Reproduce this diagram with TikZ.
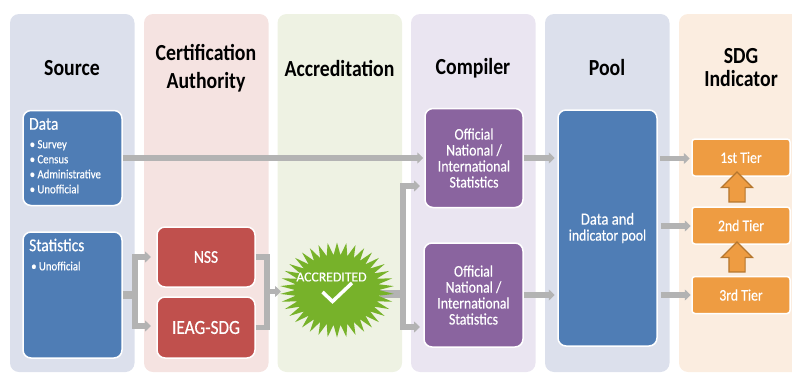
\documentclass[tikz,border=0pt]{standalone}
\usepackage{fontspec}
\setmainfont[FakeStretch=0.86]{Carlito}
\newfontfamily\boxfont[FakeStretch=0.86,FakeBold=0.4]{Carlito}
\newfontfamily\sealfont[FakeBold=0.4]{Carlito}
\usetikzlibrary{shapes.geometric,shapes.arrows,arrows.meta}
\definecolor{panelblue}{HTML}{DCE0EC}
\definecolor{panelred}{HTML}{F5E3E1}
\definecolor{panelgreen}{HTML}{EEF2E3}
\definecolor{panelviolet}{HTML}{EAE5F1}
\definecolor{panelorange}{HTML}{FBEDE0}
\definecolor{boxblue}{HTML}{4F7DB5}
\definecolor{boxred}{HTML}{C0504D}
\definecolor{boxviolet}{HTML}{8A649F}
\definecolor{boxorange}{HTML}{EE9C42}
\definecolor{edgeorange}{HTML}{B5762E}
\definecolor{sealgreen}{HTML}{77B22A}
\definecolor{flowgray}{HTML}{B3B3B3}
\tikzset{
  box/.style={draw=white,line width=1.5pt,rounded corners=8pt,text=white,inner sep=0pt,align=center,font=\fontsize{16}{16}\selectfont\boxfont},
  head/.style={font=\fontsize{23}{28}\selectfont\bfseries,align=center,inner sep=0pt},
  tier/.style={box,fill=boxorange,rounded corners=3pt,minimum width=98pt,minimum height=37pt},
  flow/.style={flowgray,line width=5.5pt,-{Triangle[length=6pt,width=11pt]}},
  flowline/.style={flowgray,line width=5.5pt},
  stub/.style={flowgray,line width=7.5pt},
  tierup/.style={single arrow,draw=edgeorange,fill=boxorange,line width=1.2pt,rotate=90,inner xsep=0pt,inner ysep=7.5pt,
    minimum height=30pt,single arrow head extend=7.5pt,single arrow head indent=0pt},
}
\begin{document}
\begin{tikzpicture}[x=1pt,y=-1pt]
    \useasboundingbox (0,0) rectangle (792,372);
    \clip (0,0) rectangle (792,372);

    % columns
    \foreach \x/\c in {10/panelblue,144/panelred,277.5/panelgreen,411/panelviolet,545/panelblue,679/panelorange} {
      \fill[\c,rounded corners=9pt] (\x,14) rectangle +(124.5,358);
    }

    \node[head] (srcHead) at (72,68) {Source};
    \node[head] (certHead) at (206,68) {Certification\\Authority};
    \node[head] (accHead) at (339.5,68) {Accreditation};
    \node[head] (compHead) at (473,68) {Compiler};
    \node[head] (poolHead) at (607,68) {Pool};
    \node[head,font=\fontsize{23}{23}\selectfont\bfseries] (sdgHead) at (741,68) {SDG\\Indicator};

    % boxes
    \node[box,fill=boxblue,minimum width=99pt,minimum height=95pt] (data) at (72.5,158) {};
    \node[box,fill=boxblue,minimum width=99pt,minimum height=126pt] (stats) at (72.5,295) {};
    \node[box,fill=boxred,minimum width=98pt,minimum height=60pt] (nss) at (206,257) {\fontsize{18}{16}\selectfont NSS};
    \node[box,fill=boxred,minimum width=98pt,minimum height=61pt] (ieag) at (206,327.5) {\fontsize{20}{16}\selectfont IEAG-SDG};
    \node[box,fill=boxviolet,minimum width=98pt,minimum height=99pt] (compA) at (474,158) {Official\\National /\\International\\Statistics};
    \node[box,fill=boxviolet,minimum width=99pt,minimum height=104pt] (compB) at (473.5,295) {Official\\National /\\International\\Statistics};
    \node[box,fill=boxblue,minimum width=99pt,minimum height=236pt] (pool) at (607.5,228) {\fontsize{17}{17}\selectfont Data and\\indicator pool};
    \node[tier] (tierA) at (741,157.5) {1st Tier};
    \node[tier] (tierB) at (741,225.5) {2nd Tier};
    \node[tier] (tierC) at (741,295) {3rd Tier};

    % text of the source boxes
    \node[anchor=west,text=white,inner sep=0pt,font=\fontsize{18}{18}\selectfont\boxfont] (dataTitle) at (29,124) {Data};
    \node[anchor=north west,text=white,inner sep=0pt,align=left,font=\fontsize{12.5}{15}\selectfont\boxfont] (dataList) at (29.5,140)
      {\textbullet\ Survey\\\textbullet\ Census\\\textbullet\ Administrative\\\textbullet\ Unofficial};
    \node[anchor=west,text=white,inner sep=0pt,font=\fontsize{18}{18}\selectfont\boxfont] (statsTitle) at (29,245) {Statistics};
    \node[anchor=west,text=white,inner sep=0pt,font=\fontsize{12.5}{15}\selectfont\boxfont] (statsList) at (31,266) {\textbullet\ Unofficial};

    % connectors
    \coordinate (statsFork) at (135,295);
    \coordinate (nssIn) at (151,257);
    \coordinate (ieagIn) at (151,326);
    \coordinate (certJoin) at (267,291.5);
    \coordinate (sealIn) at (281,291.5);
    \coordinate (sealFork) at (403,294);
    \coordinate (sealOut) at (380,294);
    \coordinate (compAin) at (420,186);
    \coordinate (compBin) at (420,327);

    \draw[flow,shorten >=1pt] (data.east) -- (compA.west);

    \draw[stub] (stats.east) -- (statsFork);
    \draw[flow] (statsFork) |- (nssIn);
    \draw[flow] (statsFork) |- (ieagIn);

    \draw[flowline] (nss.east) -| (certJoin);
    \draw[flowline] (ieag.east) -| (certJoin);
    \draw[flow] (certJoin) -- (sealIn);

    \draw[stub] (sealOut) -- (sealFork);
    \draw[flow] (sealFork) |- (compAin);
    \draw[flow] (sealFork) |- (compBin);

    \draw[flow] (compA.east) -- ++(31,0);
    \draw[flow] (compB.east) -- ++(31,0);
    \draw[flow] (pool.east |- tierA) ++(2,1) -- ++(30,0);
    \draw[flow] (pool.east |- tierB) ++(3,0.5) -- ++(30,0);
    \draw[flow] (pool.east |- tierC) ++(3,0) -- ++(30,0);

    % seal
    \node[star,star points=38,star point ratio=1.36,fill=sealgreen,minimum size=95pt,inner sep=0pt,xscale=1.2] (seal) at (337,290) {};
    \node[text=white,inner sep=0pt,font=\fontsize{13.7}{14}\selectfont\sealfont] (sealText) at (331.5,277) {ACCREDITED};
    \draw[white,line width=3.5pt] (322.5,292) -- (332.5,301.5) -- (352,283);

    % tier arrows
    \node[tierup] (upA) at (737,191) {};
    \node[tierup] (upB) at (737,261) {};
\end{tikzpicture}
\end{document}
